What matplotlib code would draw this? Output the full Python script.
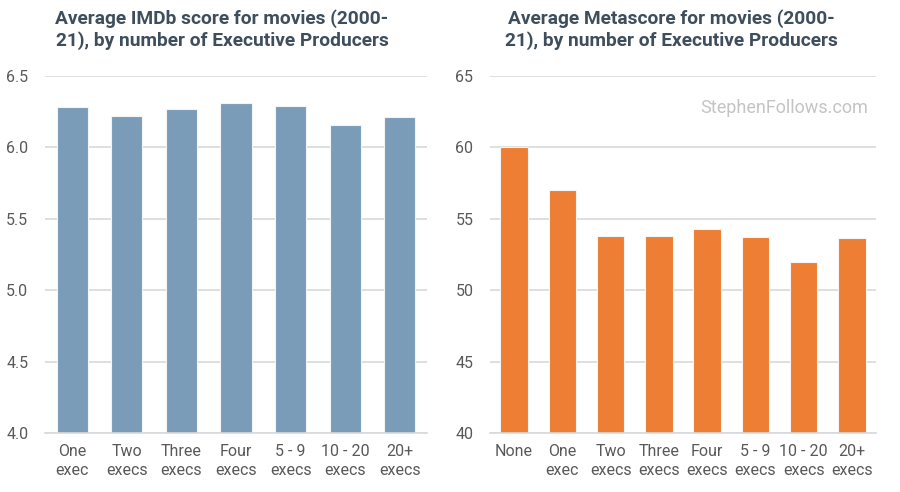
import matplotlib
matplotlib.use("Agg")
import matplotlib.pyplot as plt
import numpy as np

plt.rcParams['font.family'] = ['Roboto', 'DejaVu Sans']

# data
imdb_labels = ["One\nexec", "Two\nexecs", "Three\nexecs", "Four\nexecs",
               "5 - 9\nexecs", "10 - 20\nexecs", "20+\nexecs"]
imdb_scores = [6.28, 6.22, 6.27, 6.31, 6.29, 6.16, 6.21]

meta_labels = ["None", "One\nexec", "Two\nexecs", "Three\nexecs", "Four\nexecs",
               "5 - 9\nexecs", "10 - 20\nexecs", "20+\nexecs"]
meta_scores = [60.0, 57.0, 53.8, 53.8, 54.3, 53.75, 51.95, 53.65]

imdb_ticks = [4.0, 4.5, 5.0, 5.5, 6.0, 6.5]
meta_ticks = [40, 45, 50, 55, 60, 65]

TITLE_COL = '#3F4E5C'
TICK_COL = '#595959'
GRID_COL = '#D9D9D9'

fig = plt.figure(figsize=(9, 4.92), dpi=100)
ax1 = fig.add_axes([45/900, 59/492, 382/900, 357/492])
ax2 = fig.add_axes([490/900, 59/492, 386/900, 357/492])


def style(ax, labels, values, ticks, color, fmt):
    x = np.arange(len(labels))
    ax.bar(x, values, width=0.57, color=color, edgecolor='#F4F4F4',
           linewidth=0.8, zorder=3)
    ax.set_xlim(-0.5, len(labels) - 0.5)
    ax.set_ylim(ticks[0], ticks[-1])
    ax.set_yticks(ticks)
    ax.set_yticklabels([fmt.format(t) for t in ticks])
    ax.set_xticks(x)
    ax.set_xticklabels(labels, linespacing=1.3)
    ax.grid(axis='y', color=GRID_COL, linewidth=1.2, zorder=0)
    for s in ['top', 'right', 'left']:
        ax.spines[s].set_visible(False)
    ax.spines['bottom'].set_color(GRID_COL)
    ax.spines['bottom'].set_linewidth(1.2)
    ax.spines['bottom'].set_zorder(4)
    ax.tick_params(axis='both', length=0, labelsize=11.5, colors=TICK_COL)
    ax.tick_params(axis='x', pad=8)
    ax.tick_params(axis='y', pad=12)


style(ax1, imdb_labels, imdb_scores, imdb_ticks, '#7A9CB8', '{:.1f}')
style(ax2, meta_labels, meta_scores, meta_ticks, '#ED7E34', '{:.0f}')

fig.text(222/900, 1 - 9/492,
         "Average IMDb score for movies (2000-\n21), by number of Executive Producers",
         ha='center', va='top', fontsize=13.8, fontweight='bold', color=TITLE_COL,
         linespacing=1.2)
fig.text(671/900, 1 - 9/492,
         "Average Metascore for movies (2000-\n21), by number of Executive Producers",
         ha='center', va='top', fontsize=13.8, fontweight='bold', color=TITLE_COL,
         linespacing=1.2)

ax2.text(0.98, 0.91, "StephenFollows.com", transform=ax2.transAxes,
         ha='right', va='center', fontsize=13, color='#C4C4C4')

fig.savefig("out.png", dpi=100, facecolor='white')
